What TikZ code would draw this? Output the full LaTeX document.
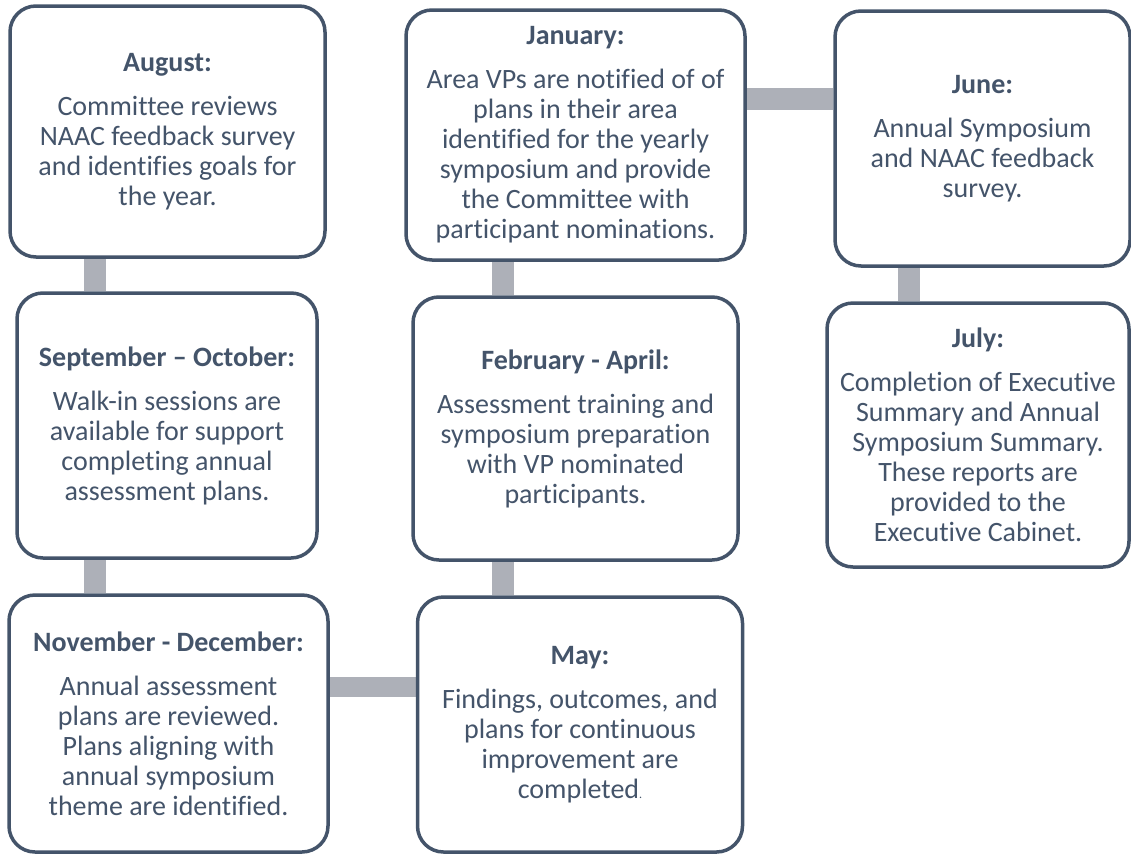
\documentclass[tikz,border=0pt]{standalone}
\usepackage{fontspec}
\setmainfont[Ligatures={NoCommon}]{Carlito}
\usetikzlibrary{backgrounds}

\definecolor{slate}{HTML}{44546A}
\definecolor{barcol}{HTML}{ADB0B8}

\tikzset{
  stagebox/.style={draw=slate, line width=3.5pt, fill=white, rounded corners=26pt,
    text=slate, align=center, inner sep=0pt,
    font=\fontsize{28}{30}\selectfont},
  bar/.style={draw=barcol, line width=22pt},
}
\newcommand{\stagehead}[1]{\textbf{#1}\\[14pt]}

\begin{document}
\begin{tikzpicture}[x=1pt, y=-1pt]
  \useasboundingbox (0,0) rectangle (1131,854);

  % left column
  \node[stagebox, minimum width=315pt, minimum height=251pt] (aug) at (167.5,131.5)
    {\stagehead{August:}Committee reviews\\NAAC feedback survey\\and identifies goals for\\the year.};
  \node[stagebox, minimum width=300pt, minimum height=265pt] (sep) at (167,425.5)
    {\stagehead{September – October:}Walk-in sessions are\\available for support\\completing annual\\assessment plans.};
  \node[stagebox, minimum width=319pt, minimum height=257pt] (nov) at (168.5,723.5)
    {\stagehead{November - December:}Annual assessment\\plans are reviewed.\\Plans aligning with\\annual symposium\\theme are identified.};

  % middle column
  \node[stagebox, minimum width=339pt, minimum height=250pt] (jan) at (575.5,135)
    {\stagehead{January:}Area VPs are notified of of\\plans in their area\\identified for the yearly\\symposium and provide\\the Committee with\\participant nominations.};
  \node[stagebox, minimum width=325pt, minimum height=263pt] (feb) at (575.5,428.5)
    {\stagehead{February - April:}Assessment training and\\symposium preparation\\with VP nominated\\participants.};
  \node[stagebox, minimum width=325pt, minimum height=255pt] (may) at (580,724.5)
    {\stagehead{May:}Findings, outcomes, and\\plans for continuous\\improvement are\\completed{\fontsize{12}{14}\selectfont.}};

  % right column
  \node[stagebox, minimum width=295pt, minimum height=255pt] (jun) at (982.5,138.5)
    {\stagehead{June:}Annual Symposium\\and NAAC feedback\\survey.};
  \node[stagebox, minimum width=302pt, minimum height=264pt] (jul) at (978,435)
    {\stagehead{July:}Completion of Executive\\Summary and Annual\\Symposium Summary.\\These reports are\\provided to the\\Executive Cabinet.};

  % connector tracks
  \coordinate (xl) at (94.5,0);
  \coordinate (xm) at (502.5,0);
  \coordinate (xr) at (909,0);
  \coordinate (yt) at (0,99);
  \coordinate (yb) at (0,687);

  \begin{scope}[on background layer]
    \draw[bar] (aug.south -| xl) -- (sep.north -| xl);
    \draw[bar] (sep.south -| xl) -- (nov.north -| xl);
    \draw[bar, line width=20pt] (nov.east |- yb) -- (may.west |- yb);
    \draw[bar] (may.north -| xm) -- (feb.south -| xm);
    \draw[bar] (feb.north -| xm) -- (jan.south -| xm);
    \draw[bar] (jan.east |- yt) -- (jun.west |- yt);
    \draw[bar] (jun.south -| xr) -- (jul.north -| xr);
  \end{scope}
\end{tikzpicture}
\end{document}
